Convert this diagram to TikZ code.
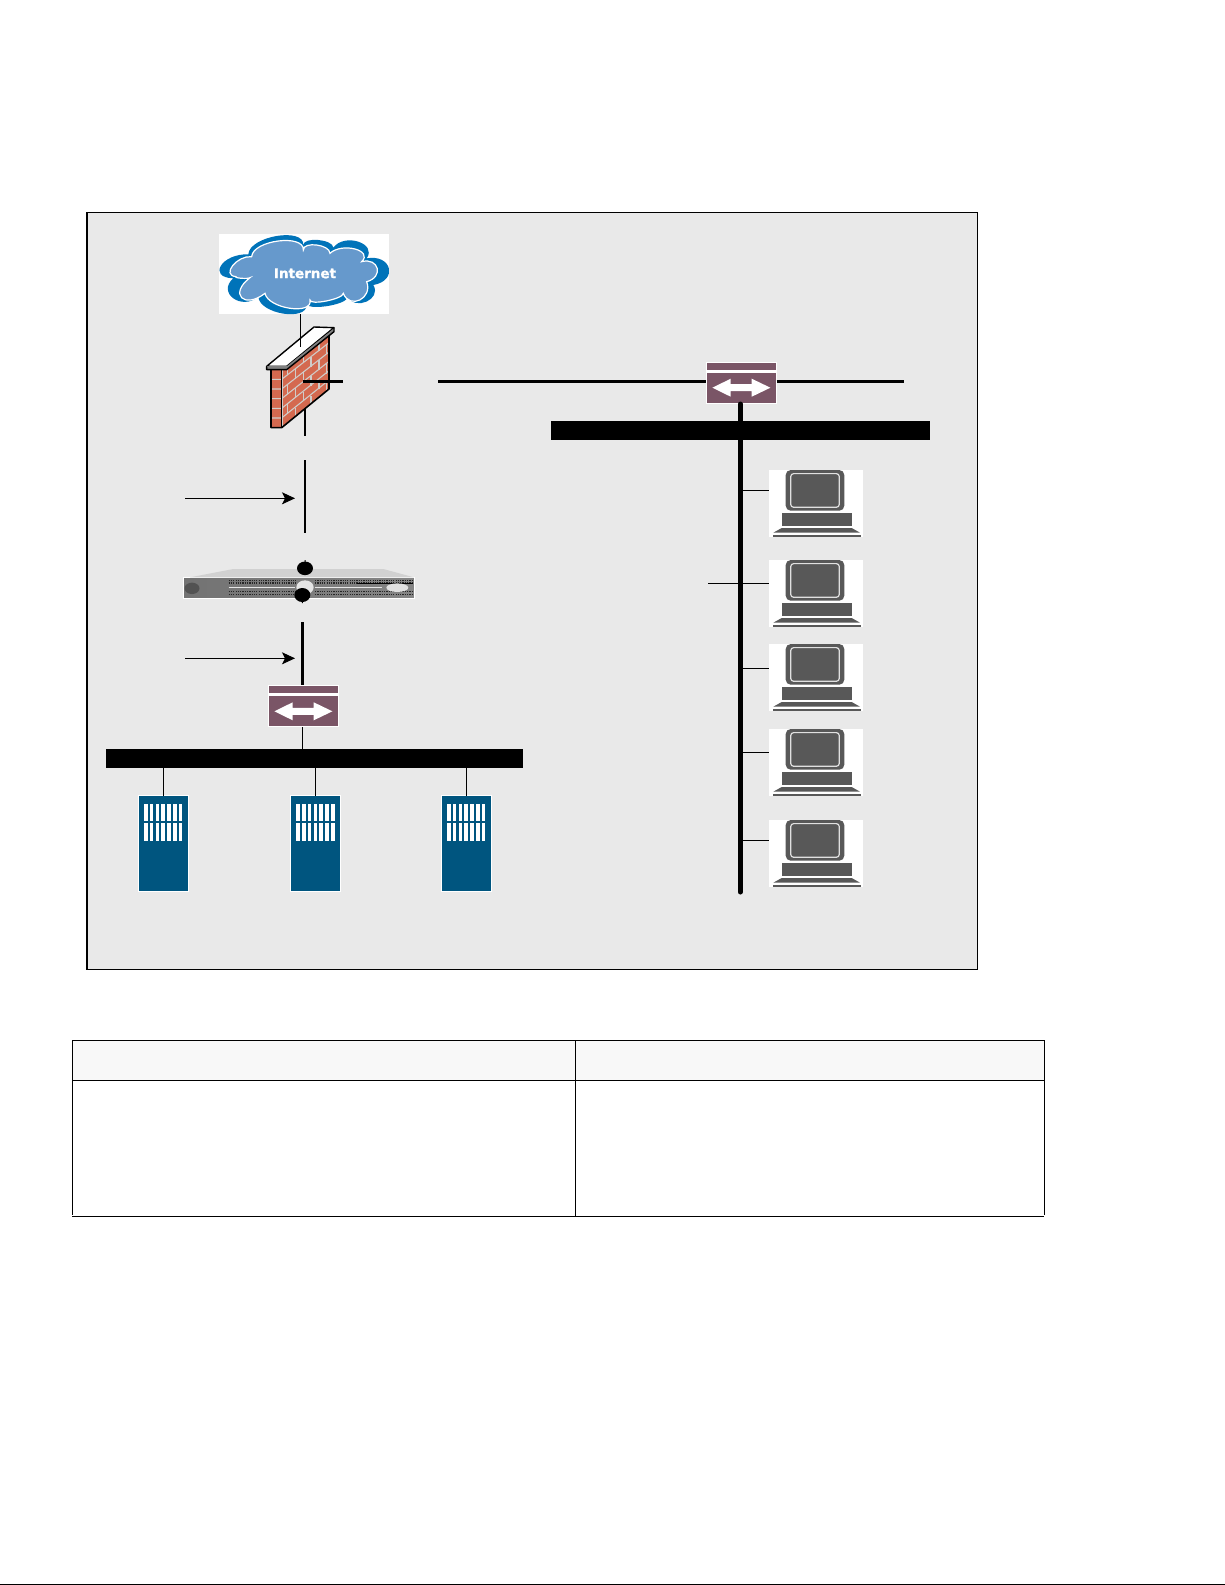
\documentclass[tikz,border=0pt]{standalone}
\usepackage{fontspec}
\newfontfamily\cloudfont[FakeBold=1]{DejaVu Sans Bold}
\usetikzlibrary{arrows.meta,calc}
\definecolor{panelgrey}{HTML}{E9E9E9}
\definecolor{headgrey}{HTML}{F8F8F8}
\definecolor{switchcol}{HTML}{7A5566}
\definecolor{servercol}{HTML}{00557F}
\definecolor{pccol}{HTML}{585858}
\definecolor{cloudout}{HTML}{0073B9}
\definecolor{cloudin}{HTML}{6699CC}
\definecolor{brick}{HTML}{D4694F}
\definecolor{mortar}{HTML}{D0CCC8}
\newcommand\lobe[3]{.. controls ($(#1)+1.333*(#2)-0.667*(#1)-0.667*(#3)$) and ($(#3)+1.333*(#2)-0.667*(#1)-0.667*(#3)$) .. (#3)}
\tikzset{
  iconbox/.style={rectangle,inner sep=0pt,outer sep=0pt,anchor=north west,fill=white},
  thinlink/.style={line width=1pt,black},
  midlink/.style={line width=2pt,black},
  heavylink/.style={line width=2.7pt,black},
  trunk/.style={line width=5pt,black},
  lanbar/.style={rectangle,fill=black,inner sep=0pt,outer sep=0pt,anchor=north west},
  callout/.style={line width=1pt,black,-{Stealth[length=13pt,width=12pt,inset=3pt]}},
  rule/.style={line width=1pt,black},
  switchicon/.pic={
    \node[iconbox,minimum width=71pt,minimum height=42pt] (-box) at (0,0) {};
    \fill[switchcol] (1,1) rectangle (70,8);
    \fill[switchcol] (1,11) rectangle (70,41);
    \fill[white] (6.7,26) -- (25,17) -- (25,22.5) -- (46,22.5) -- (46,17) -- (64.7,26)
       -- (46,35) -- (46,29.5) -- (25,29.5) -- (25,35) -- cycle;
  },
  pcicon/.pic={
    \node[iconbox,minimum width=94pt,minimum height=67pt] (-box) at (0,0) {};
    \fill[pccol,rounded corners=5pt] (16.7,0) rectangle (75.3,40.7);
    \draw[black!12,line width=1.2pt,rounded corners=3pt] (21.7,3.6) rectangle (70.3,37.3);
    \fill[pccol] (12.7,42.7) rectangle (82.7,55.7);
    \fill[pccol] (4.3,62.7) -- (12.7,58) -- (82.7,58) -- (91,62.7) -- cycle;
    \fill[pccol] (4,64.7) rectangle (91.7,67);
  },
  servericon/.pic={
    \node[iconbox,fill=servercol,draw=white,line width=.6pt,minimum width=50pt,minimum height=96pt] (-box) at (0,0) {};
    \foreach \i in {0,...,6}{
      \fill[white] ({6+\i*5.78},8.3) rectangle +(3.6,16.7);
      \fill[white] ({6+\i*5.78},27) rectangle +(3.6,18);
    }
  }
}
\begin{document}
\begin{tikzpicture}[x=1pt,y=-1pt]
\useasboundingbox (0,0) rectangle (1225,1585);
\fill[white] (0,0) rectangle (1225,1585);
% panel
\draw[fill=panelgrey,line width=1pt] (87,212.3) rectangle (977.3,969.5);
\draw[line width=2pt] (87,212) -- (87,970);
% table
\fill[headgrey] (72.3,1040.7) rectangle (1044.7,1080.3);
\draw[rule] (72.3,1040.7) -- (1044.7,1040.7);
\draw[rule] (72.3,1080.3) -- (1044.7,1080.3);
\draw[rule] (72,1216.3) -- (1044,1216.3);
\draw[rule] (72.6,1040.7) -- (72.6,1215);
\draw[rule] (575.5,1040.7) -- (575.5,1216);
\draw[rule] (1044.7,1040.7) -- (1044.7,1214.5);
\draw[rule] (0,1584.5) -- (1225,1584.5);
% cloud
\node[iconbox,minimum width=170pt,minimum height=80pt] (cloud) at (219,234) {};
\begin{scope}[shift={(170,225)},x=.33333pt,y=-.33333pt]
  \fill[cloudout] (190,160) \lobe{190,160}{153,122}{235,88} \lobe{235,88}{320,33}{400,60}
    \lobe{400,60}{445,45}{490,68} \lobe{490,68}{565,50}{590,100} \lobe{590,100}{657,130}{610,180}
    \lobe{610,180}{590,230}{530,215} \lobe{530,215}{480,242}{410,238} \lobe{410,238}{340,266}{265,215}
    \lobe{265,215}{190,220}{190,160} -- cycle;
  \draw[fill=cloudin,draw=white,line width=1.2pt] (198,155) \lobe{198,155}{188,122}{245,95}
    \lobe{245,95}{325,48}{400,75} \lobe{400,75}{440,60}{480,85} \lobe{480,85}{555,72}{575,110}
    \lobe{575,110}{622,130}{590,170} \lobe{590,170}{570,225}{520,205} \lobe{520,205}{470,228}{420,225}
    \lobe{420,225}{360,250}{285,205} \lobe{285,205}{215,218}{240,158} \lobe{240,158}{215,160}{198,155} -- cycle;
  \node[text=white,inner sep=0pt,font=\cloudfont\fontsize{13.5pt}{14pt}\selectfont] (cloudtext) at (405,145) {Internet};
\end{scope}
% firewall
\begin{scope}[shift={(170,225)},x=.33333pt,y=-.33333pt]
  \begin{scope}
    \clip (303,434) -- (335,434) -- (477,325) -- (477,492) -- (335,608) -- (303,608) -- cycle;
    \fill[brick] (303,300) rectangle (480,610);
    \foreach \k in {1,...,5}{
      \draw[mortar,line width=1.1pt] (303,{434+\k*29}) -- (335,{434+\k*29}) -- (477,{325+\k*28});
    }
    \foreach \k in {0,...,5}{
      \pgfmathsetmacro{\off}{mod(\k,2)*23}
      \foreach \j in {0,1,2}{
        \pgfmathsetmacro{\xx}{353+\off+\j*47}
        \pgfmathsetmacro{\yy}{434+\k*29-(\xx-335)*0.767}
        \draw[mortar,line width=1.1pt] (\xx,\yy) -- ++(0,29);
      }
    }
    \draw[mortar,line width=2pt] (335,434) -- (335,608);
  \end{scope}
  \draw[black,line width=1.6pt,line join=round] (303,434) -- (303,608) -- (335,608) -- (477,492) -- (477,325);
  \draw[black,line width=.8pt] (335,434) -- (335,608);
  \draw[fill=white,draw=black,line width=1.4pt,line join=round] (290,424) -- (432,306) -- (492,308) -- (350,424) -- cycle;
  \fill[gray] (290,424) -- (350,424) -- (350,434) -- (290,434) -- cycle;
  \fill[gray] (350,424) -- (492,310) -- (492,320) -- (350,434) -- cycle;
  \draw[black,line width=1.4pt,line join=round] (290,424) -- (290,434) -- (350,434) -- (492,320) -- (492,308);
\end{scope}
% rack server
\node[iconbox,minimum width=231pt,minimum height=21pt,left color=black!55,right color=black!48,draw=white,line width=.7pt] (rack) at (183.5,577.3) {};
\begin{scope}[shift={(170,450)},x=.33333pt,y=-.33333pt]
  \fill[black!18] (60,382) -- (190,357) -- (640,357) -- (732,382) -- cycle;
  \fill[black!68] (66,415) ellipse [x radius=7.5pt,y radius=5.7pt];
  \foreach \y in {391,399,424,433}{
    \draw[black!85,line width=1.4pt,dash pattern=on 1.2pt off 1.1pt] (176,\y) -- (378,\y);
    \draw[black!85,line width=1.4pt,dash pattern=on 1.2pt off 1.1pt] (435,\y) -- (730,\y);
  }
  \draw[black!10,line width=1.5pt] (176,413) -- (375,413);
  \draw[black!10,line width=1.5pt] (435,413) -- (635,413);
  \draw[black,line width=.7pt] (560,400) -- (730,400);
  \fill[black!12] (682,413) ellipse [x radius=11pt,y radius=4.3pt];
  \fill[black!10] (405,412) ellipse [x radius=8.7pt,y radius=7pt];
  \fill[black] (405,355) ellipse [x radius=8pt,y radius=6.8pt];
  \fill[black] (397,435) ellipse [x radius=8pt,y radius=7pt];
  \coordinate (rackTop) at (405,355);
  \coordinate (rackBot) at (397,435);
\end{scope}
% switches
\pic (swA) at (705.7,361.7) {switchicon};
\pic (swB) at (267.7,685.3) {switchicon};
% LAN bars
\node[lanbar,minimum width=416.5pt,minimum height=19pt] (barB) at (106,749) {};
\node[lanbar,minimum width=379pt,minimum height=19pt] (barA) at (551,421) {};
% workstations
\pic (pcA) at (769,470) {pcicon};
\pic (pcB) at (769,560) {pcicon};
\pic (pcC) at (769,644) {pcicon};
\pic (pcD) at (769,729) {pcicon};
\pic (pcE) at (769,820) {pcicon};
% servers
\pic (srvA) at (138,795.7) {servericon};
\pic (srvB) at (290.3,795.7) {servericon};
\pic (srvC) at (441,795.7) {servericon};
% named free ends
\coordinate (fwTop) at (300.3,346.7);
\coordinate (fwMid) at (303.3,381.3);
\coordinate (fwOut) at (342.7,381.3);
\coordinate (fwIn) at (438,381.3);
\coordinate (wanEnd) at (903.6,381.3);
\coordinate (fwDown) at (305,408);
\coordinate (fwDownEnd) at (305,435.7);
\coordinate (dmzTop) at (305,460);
\coordinate (dmzBot) at (305,532.7);
\coordinate (inTop) at (302.3,622);
\coordinate (trunkX) at (740.3,404);
\coordinate (trunkEnd) at (740.3,892);
\coordinate (calloutA) at (185,498.3);
\coordinate (calloutAEnd) at (295,498.3);
\coordinate (calloutB) at (185,658.3);
\coordinate (calloutBEnd) at (295,658.3);
\coordinate (lanStub) at (708,583);
% connectors
\draw[thinlink] (cloud.south -| fwTop) -- (fwTop);
\draw[heavylink] (fwMid) -- (fwOut);
\draw[heavylink] (fwIn) -- (swA-box.west |- fwIn);
\draw[heavylink] (swA-box.east |- wanEnd) -- (wanEnd);
\draw[midlink] (fwDown) -- (fwDownEnd);
\draw[midlink] (dmzTop) -- (dmzBot);
\draw[callout] (calloutA) -- (calloutAEnd);
\draw[callout] (calloutB) -- (calloutBEnd);
\draw[heavylink] (inTop) -- (inTop |- swB-box.north);
\draw[thinlink] (inTop |- swB-box.south) -- (inTop |- barB.north);
\draw[thinlink] (305,560) -- (rackTop);
\draw[thinlink] (rackBot) -- (302.3,603);
\draw[thinlink] (163.3,768) -- (163.3,795.7);
\draw[thinlink] (315,768) -- (315,795.7);
\draw[thinlink] (466,768) -- (466,795.7);
\draw[trunk,line cap=round] (trunkX) -- (trunkEnd);
\draw[thinlink] (trunkX |- 0,490.3) -- (pcA-box.west |- 0,490.3);
\draw[thinlink] (lanStub) -- (pcB-box.west |- lanStub);
\draw[thinlink] (trunkX |- 0,668) -- (pcC-box.west |- 0,668);
\draw[thinlink] (trunkX |- 0,752) -- (pcD-box.west |- 0,752);
\draw[thinlink] (trunkX |- 0,840.3) -- (pcE-box.west |- 0,840.3);
\end{tikzpicture}
\end{document}
